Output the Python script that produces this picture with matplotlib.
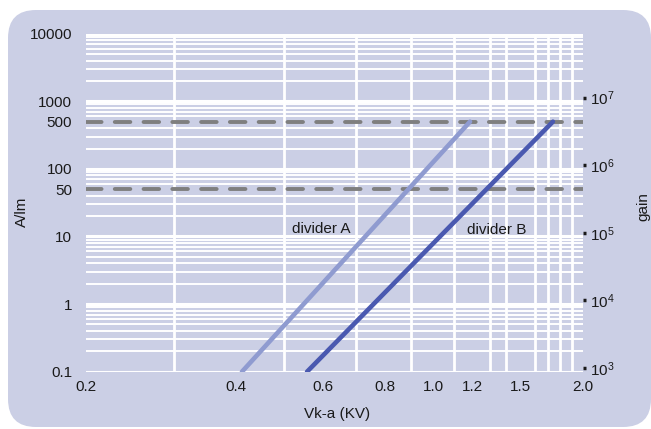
import numpy as np
import matplotlib
matplotlib.use("Agg")
import matplotlib.pyplot as plt
from matplotlib.patches import FancyBboxPatch
from matplotlib.ticker import FixedLocator, LogLocator, NullFormatter, LogFormatterMathtext

plt.rcParams['font.family'] = ['Liberation Sans', 'DejaVu Sans']
plt.rcParams['font.size'] = 11

# data
div_a_x = [0.412, 1.185]
div_a_y = [0.1, 500]
div_b_x = [0.557, 1.74]
div_b_y = [0.1, 500]
ref_levels = [50, 500]

x_ticks = [0.2, 0.4, 0.6, 0.8, 1.0, 1.2, 1.5, 2.0]
x_labels = ["0.2", "0.4", "0.6", "0.8", "1.0", "1.2", "1.5", "2.0"]
x_grid = [0.2, 0.3, 0.4, 0.5, 0.6, 0.7, 0.8, 0.9, 1.0, 1.1, 1.2, 1.3,
          1.4, 1.5, 1.6, 1.7, 1.8, 1.9, 2.0]
y_ticks = [0.1, 1, 10, 50, 100, 500, 1000, 10000]
y_labels = ["0.1", "1", "10", "50", "100", "500", "1000", "10000"]
gain_ticks = [1e3, 1e4, 1e5, 1e6, 1e7]

bg = "#cbcfe5"
W, H = 651, 429

fig = plt.figure(figsize=(W / 100, H / 100), dpi=100)
fig.patch.set_facecolor("white")

# rounded panel behind everything, drawn in pixel units
bg_ax = fig.add_axes([0, 0, 1, 1], zorder=-1)
bg_ax.set_xlim(0, W)
bg_ax.set_ylim(H, 0)
bg_ax.axis("off")
r = 28
panel = FancyBboxPatch((8 + r, 10 + r), W - 8 - 2 * r, H - 2 - 10 - 2 * r,
                       boxstyle=f"round,pad={r},rounding_size={r}",
                       facecolor=bg, edgecolor="none")
bg_ax.add_patch(panel)

left, right = 86 / W, 583 / W
bottom, top = 1 - 371.7 / H, 1 - 33.7 / H
ax = fig.add_axes([left, bottom, right - left, top - bottom])
ax.set_facecolor(bg)
ax.set_xscale("log")
ax.set_yscale("log")
ax.set_xlim(0.2, 2.0)
ax.set_ylim(0.1, 10000)

for s in ax.spines.values():
    s.set_visible(False)

ax.xaxis.set_major_locator(FixedLocator(x_ticks))
ax.set_xticklabels(x_labels)
ax.xaxis.set_minor_locator(FixedLocator(x_grid))
ax.xaxis.set_minor_formatter(NullFormatter())
ax.yaxis.set_major_locator(FixedLocator(y_ticks))
ax.set_yticklabels(y_labels)
ax.yaxis.set_minor_locator(LogLocator(base=10, subs=np.arange(2, 10)))
ax.yaxis.set_minor_formatter(NullFormatter())

ax.tick_params(axis="both", which="both", length=0, colors="#1a1a1a")
ax.tick_params(axis="y", pad=10)
ax.tick_params(axis="x", pad=6)

ax.grid(False)
ax.grid(True, axis="x", which="minor", color="white", linewidth=2)
ax.grid(True, axis="y", which="minor", color="white", linewidth=1.4)
for yv in [0.1, 1, 10, 100, 1000, 10000]:
    ax.axhline(yv, color="white", linewidth=2.2, zorder=1)
ax.set_axisbelow(True)

for lvl in ref_levels:
    ax.axhline(lvl, color="#7f7f7f", linewidth=2.8, dashes=(4.0, 3.4),
               dash_capstyle="round", zorder=3)

ax.plot(div_a_x, div_a_y, color="#8f9bd0", linewidth=3.3,
        solid_capstyle="round", zorder=4)
ax.plot(div_b_x, div_b_y, color="#4a59b0", linewidth=3.3,
        solid_capstyle="round", zorder=4)

ax.text(0.594, 12.9, "divider A", ha="center", va="center",
        color="#1a1a1a")
ax.text(1.343, 12.5, "divider B", ha="center", va="center",
        color="#1a1a1a")

ax.set_xlabel("Vk-a (KV)", color="#1a1a1a")
ax.xaxis.set_label_coords(0.505, (371.7 - 407) / 338)
ax.set_ylabel("A/lm", color="#1a1a1a")
ax.yaxis.set_label_coords((29 - 86) / 497, (371.7 - 212) / 338)

ax2 = ax.twinx()
ax2.set_yscale("log")
ax2.set_ylim(880, 8.8e7)
for s in ax2.spines.values():
    s.set_visible(False)
ax2.yaxis.set_major_locator(FixedLocator(gain_ticks))
ax2.yaxis.set_major_formatter(LogFormatterMathtext())
ax2.yaxis.set_minor_locator(FixedLocator([]))
ax2.tick_params(axis="y", which="major", length=2, width=2.5, pad=3,
                colors="#1a1a1a", labelsize=11)
ax2.set_ylabel("gain", color="#1a1a1a")
ax2.yaxis.set_label_coords((636 - 86) / 497, (371.7 - 207) / 338)

fig.savefig("out.png", dpi=100, facecolor=fig.get_facecolor())
